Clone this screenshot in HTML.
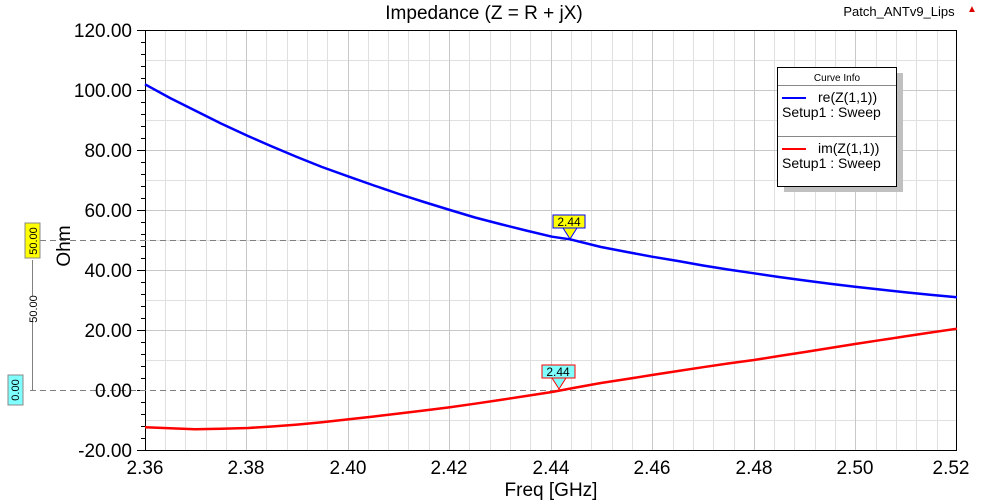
<!DOCTYPE html>
<html><head><style>body{margin:0;background:#fff}svg{display:block;font-family:"Liberation Sans",sans-serif}</style></head><body>
<svg width="984" height="501" xmlns="http://www.w3.org/2000/svg">
<rect width="984" height="501" fill="#fff"/>
<g stroke="#e0e0e0" stroke-width="1">
<path d="M165.5 30V450M185.5 30V450M206.5 30V450M226.5 30V450M266.5 30V450M287.5 30V450M307.5 30V450M327.5 30V450M368.5 30V450M388.5 30V450M408.5 30V450M429.5 30V450M469.5 30V450M490.5 30V450M510.5 30V450M530.5 30V450M571.5 30V450M591.5 30V450M612.5 30V450M632.5 30V450M673.5 30V450M693.5 30V450M713.5 30V450M734.5 30V450M774.5 30V450M794.5 30V450M815.5 30V450M835.5 30V450M876.5 30V450M896.5 30V450M916.5 30V450M937.5 30V450"/>
<path d="M145 60.5H957M145 120.5H957M145 180.5H957M145 240.5H957M145 300.5H957M145 360.5H957M145 420.5H957"/>
</g>
<g stroke="#c8c8c8" stroke-width="1">
<path d="M246.5 30V450M348.5 30V450M449.5 30V450M551.5 30V450M652.5 30V450M754.5 30V450M855.5 30V450"/>
<path d="M145 90.5H957M145 150.5H957M145 210.5H957M145 270.5H957M145 330.5H957"/>
</g>
<rect x="145.5" y="30.5" width="811" height="420" fill="none" stroke="#000"/>
<g stroke="#000">
<path d="M137 30.5H145M137 90.5H145M137 150.5H145M137 210.5H145M137 270.5H145M137 330.5H145M137 390.5H145M137 450.5H145"/>
<path d="M141 42.5H145M141 54.5H145M141 66.5H145M141 78.5H145M141 102.5H145M141 114.5H145M141 126.5H145M141 138.5H145M141 162.5H145M141 174.5H145M141 186.5H145M141 198.5H145M141 222.5H145M141 234.5H145M141 246.5H145M141 258.5H145M141 282.5H145M141 294.5H145M141 306.5H145M141 318.5H145M141 342.5H145M141 354.5H145M141 366.5H145M141 378.5H145M141 402.5H145M141 414.5H145M141 426.5H145M141 438.5H145"/>
</g>
<path d="M30 240.5H957M30 390.5H957" stroke="#808080" stroke-dasharray="6,4"/>
<path d="M32.5 260V296M32.5 322V390" stroke="#808080"/>
<g font-size="19" text-anchor="end" fill="#000">
<text x="132" y="37">120.00</text><text x="132" y="97">100.00</text><text x="132" y="157">80.00</text><text x="132" y="217">60.00</text><text x="132" y="277">40.00</text><text x="132" y="337">20.00</text><text x="132" y="397">0.00</text><text x="132" y="457">-20.00</text>
</g>
<g font-size="19" text-anchor="middle">
<text x="145" y="474">2.36</text><text x="246" y="474">2.38</text><text x="348" y="474">2.40</text><text x="449" y="474">2.42</text><text x="551" y="474">2.44</text><text x="652" y="474">2.46</text><text x="754" y="474">2.48</text><text x="855" y="474">2.50</text><text x="951" y="474">2.52</text>
</g>
<text x="551" y="496" font-size="19" text-anchor="middle">Freq [GHz]</text>
<text x="484" y="19" font-size="19" text-anchor="middle">Impedance (Z = R + jX)</text>
<text x="899" y="16" font-size="13" text-anchor="middle">Patch_ANTv9_Lips</text>
<text x="967" y="12" font-size="10" fill="#d00">▲</text>
<text transform="translate(70,246) rotate(-90)" font-size="19" text-anchor="middle">Ohm</text>
<rect x="25" y="223" width="15" height="35" fill="#ffff00" stroke="#888"/>
<text transform="translate(37,241) rotate(-90)" font-size="11" text-anchor="middle">50.00</text>
<text transform="translate(37,309) rotate(-90)" font-size="11" text-anchor="middle">50.00</text>
<rect x="8" y="375" width="15" height="30" fill="#80ffff" stroke="#888"/>
<text transform="translate(19,390) rotate(-90)" font-size="11" text-anchor="middle">0.00</text>
<polyline fill="none" stroke="#0000ff" stroke-width="2.5" stroke-linejoin="round" points="145,84.3 170,98 196,111 221,123.5 248,136 272,146.5 297,157 322,167 349,176.7 374,185.5 399,194 424,202 450,210 475,217.5 500,224 526,230.5 552,236.7 570,239.3 601,247 627,252 652,256.7 678,261 703,265.5 728,269.5 754,273.3 779,277 805,280.5 830,283.7 855,286.7 880,289.5 905,292.2 930,294.8 957,297.3"/>
<polyline fill="none" stroke="#ff0000" stroke-width="2.5" stroke-linejoin="round" points="145,427.3 170,428.3 195,429.3 221,428.8 248,428 272,426.5 297,424.6 322,422.2 349,419.3 374,416.5 399,413.5 424,410.5 450,407.3 475,403.7 500,400 526,396 552,392 576,387.5 601,383 627,379 652,375 678,371 703,367.2 728,363.5 754,360 779,356 805,352 830,348 855,344 880,340.2 905,336.4 930,332.6 957,328.7"/>
<rect x="553" y="215" width="32" height="13" fill="#ffff00" stroke="#0000ff"/>
<polygon points="563,228 577,228 570,239" fill="#ffff00" stroke="#0000ff"/>
<text x="569" y="226" font-size="12" text-anchor="middle">2.44</text>
<rect x="542" y="365" width="33" height="13" fill="#80ffff" stroke="#ff0000"/>
<polygon points="552,378 566,378 559,389" fill="#80ffff" stroke="#ff0000"/>
<text x="558" y="376" font-size="12" text-anchor="middle">2.44</text>
<rect x="784" y="73" width="119" height="119" fill="#c0c0c0"/>
<rect x="777.5" y="67.5" width="119" height="119" fill="#fff" stroke="#000"/>
<path d="M778 85.5H896M778 136.5H896" stroke="#888"/>
<text x="837" y="81" font-size="10" text-anchor="middle">Curve Info</text>
<path d="M782 98H806" stroke="#0000ff" stroke-width="2"/>
<text x="818" y="102" font-size="14">re(Z(1,1))</text>
<text x="782" y="117" font-size="14">Setup1 : Sweep</text>
<path d="M782 149H806" stroke="#ff0000" stroke-width="2"/>
<text x="818" y="153" font-size="14">im(Z(1,1))</text>
<text x="782" y="168" font-size="14">Setup1 : Sweep</text>
</svg>
</body></html>
